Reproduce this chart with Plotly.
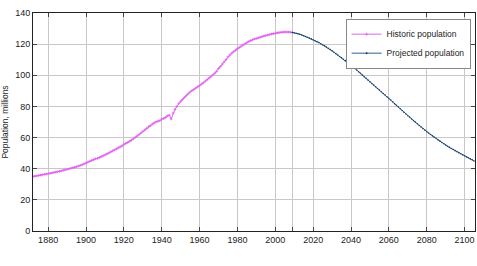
import plotly.graph_objects as go

hist_years = list(range(1872, 2010))
hist_pop = [
    35.0, 35.2, 35.4, 35.6, 35.9, 36.1, 36.4, 36.6,            # 1872-1879
    36.8, 37.0, 37.3, 37.6, 37.8, 38.1, 38.3, 38.6, 39.0, 39.3,  # 1880-1889
    39.6, 39.9, 40.3, 40.6, 40.9, 41.3, 41.7, 42.1, 42.6, 43.1,  # 1890-1899
    43.6, 44.2, 44.8, 45.3, 45.8, 46.4, 46.6, 47.1, 47.6, 48.2,  # 1900-1909
    48.8, 49.4, 50.1, 50.7, 51.4, 52.0, 52.6, 53.3, 53.9, 54.5,  # 1910-1919
    55.5, 56.2, 56.8, 57.6, 58.3, 59.2, 60.1, 61.0, 61.9, 62.9,  # 1920-1929
    64.0, 64.9, 65.9, 66.9, 67.7, 68.7, 69.4, 70.1, 70.5, 70.9,  # 1930-1939
    71.9, 72.2, 72.9, 73.9, 74.4, 71.9, 75.8, 78.1, 80.0, 81.8,  # 1940-1949
    83.2, 84.5, 85.8, 87.0, 88.2, 89.3, 90.2, 90.9, 91.8, 92.6,  # 1950-1959
    93.4, 94.3, 95.2, 96.2, 97.2, 98.3, 99.1, 100.2, 101.3, 102.5,  # 1960-1969
    104.3, 105.7, 107.2, 108.7, 110.2, 111.9, 113.1, 114.2, 115.2, 116.1,  # 1970-1979
    117.1, 117.9, 118.7, 119.5, 120.2, 121.0, 121.7, 122.3, 122.8, 123.3,  # 1980-1989
    123.6, 124.0, 124.5, 124.9, 125.3, 125.6, 125.9, 126.2, 126.5, 126.7,  # 1990-1999
    126.9, 127.3, 127.5, 127.7, 127.8, 127.8, 127.8, 127.8, 127.7, 127.5,  # 2000-2009
]

proj_years = list(range(2009, 2106))
proj_pop = [
    127.5,                                                        # 2009
    127.3, 127.0, 126.7, 126.3, 125.9, 125.4, 124.9, 124.4, 123.9, 123.4,  # 2010-2019
    122.8, 122.2, 121.6, 121.0, 120.3, 119.6, 118.9, 118.1, 117.3, 116.5,  # 2020-2029
    115.7, 114.8, 113.9, 113.0, 112.1, 111.2, 110.3, 109.4, 108.4, 107.5,  # 2030-2039
    106.5, 105.5, 104.4, 103.4, 102.3, 101.2, 100.1, 99.1, 98.0, 96.9,     # 2040-2049
    95.8, 94.7, 93.7, 92.6, 91.5, 90.5, 89.4, 88.3, 87.3, 86.2,            # 2050-2059
    85.2, 84.1, 83.0, 81.8, 80.7, 79.6, 78.5, 77.4, 76.2, 75.1,            # 2060-2069
    74.0, 73.0, 71.9, 70.9, 69.9, 68.9, 67.8, 66.8, 65.8, 64.8,            # 2070-2079
    63.8, 62.9, 62.0, 61.1, 60.2, 59.4, 58.5, 57.7, 56.8, 56.0,            # 2080-2089
    55.2, 54.4, 53.7, 53.0, 52.3, 51.6, 50.9, 50.2, 49.6, 48.9,            # 2090-2099
    48.3, 47.6, 47.0, 46.3, 45.7, 45.0,                                    # 2100-2105
]

x_ticks = [1880, 1900, 1920, 1940, 1960, 1980, 2000, 2020, 2040, 2060, 2080, 2100]
y_ticks = [0, 20, 40, 60, 80, 100, 120, 140]

boundary = hist_years[-1]
tickvals = x_ticks + [boundary]
ticktext = [str(t) for t in x_ticks] + [""]

FONT = "Liberation Sans, Helvetica, Arial, sans-serif"
HIST_COLOR = "#e060f0"
PROJ_COLOR = "#2f5f8f"

fig = go.Figure()
fig.add_trace(go.Scatter(
    x=hist_years, y=hist_pop, name="Historic population",
    mode="lines+markers",
    line=dict(color=HIST_COLOR, width=1),
    marker=dict(color=HIST_COLOR, size=2, symbol="cross-thin",
                line=dict(color=HIST_COLOR, width=0.8)),
))
fig.add_trace(go.Scatter(
    x=proj_years, y=proj_pop, name="Projected population",
    mode="lines+markers",
    line=dict(color=PROJ_COLOR, width=1),
    marker=dict(color="#1c3f66", size=1.6),
))

fig.update_layout(
    width=477, height=266,
    margin=dict(l=33, r=2, t=13, b=35),
    paper_bgcolor="white", plot_bgcolor="white",
    font=dict(family=FONT, size=9, color="#222"),
    showlegend=True,
    legend=dict(
        x=0.99, y=0.974, xanchor="right", yanchor="top",
        bgcolor="white", bordercolor="#888", borderwidth=1,
        font=dict(family=FONT, size=8.5, color="#222"),
        itemwidth=30, tracegroupgap=0,
    ),
)
fig.update_xaxes(
    range=[1872, 2105.5],
    tickmode="array", tickvals=tickvals, ticktext=ticktext,
    showgrid=True, gridcolor="#c8c8c8", gridwidth=1.2,
    showline=True, linecolor="#222", linewidth=1, mirror="ticks",
    ticks="inside", ticklen=4, tickcolor="#444",
    zeroline=False,
)
fig.update_yaxes(
    range=[0, 140],
    tickmode="array", tickvals=y_ticks,
    showgrid=True, gridcolor="#c8c8c8", gridwidth=1.2,
    showline=True, linecolor="#222", linewidth=1, mirror="ticks",
    ticks="inside", ticklen=4, tickcolor="#444",
    zeroline=False,
    title=dict(text="Population, millions", font=dict(family=FONT, size=8.5, color="#222"), standoff=6),
)

fig.write_html("out.html")
